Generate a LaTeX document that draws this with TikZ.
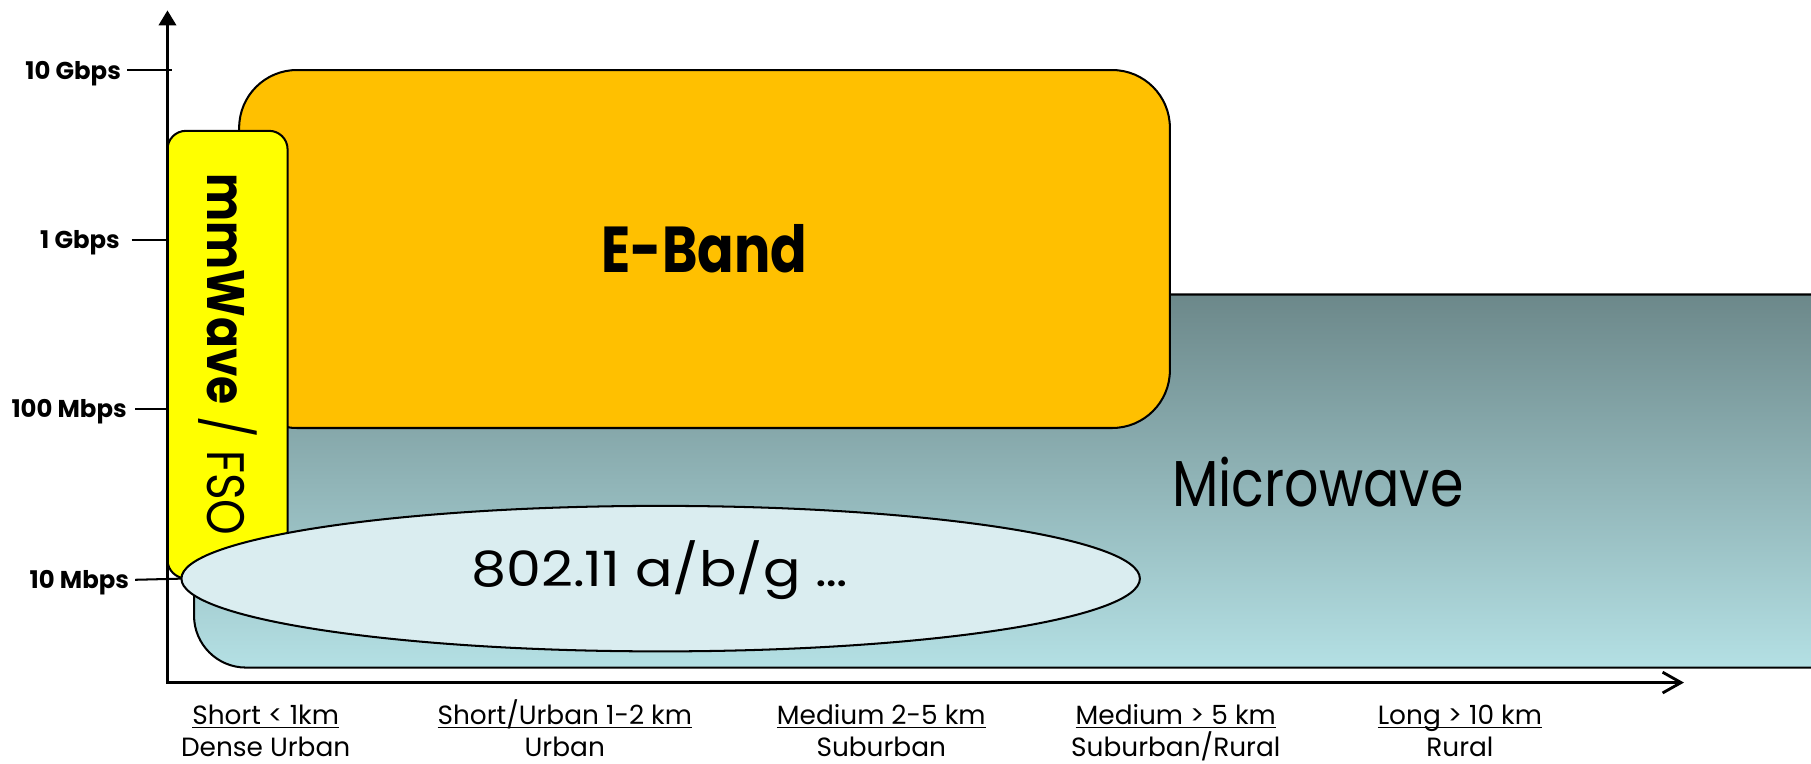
\documentclass[tikz,border=0pt]{standalone}
\usepackage{fontspec}
\setmainfont{Poppins}
\newfontfamily\narrowfont{Poppins}[FakeStretch=0.83]
\newfontfamily\mmwfont{Poppins}[FakeStretch=0.86]
\newfontfamily\widefont{Poppins}[FakeStretch=1.14]
\usetikzlibrary{arrows.meta,shapes.geometric}
\definecolor{eband}{HTML}{FFC000}
\definecolor{mmw}{HTML}{FFFF00}
\definecolor{mwtop}{HTML}{6C888A}
\definecolor{mwbot}{HTML}{B4E0E4}
\definecolor{wifi}{HTML}{DAEDF0}
\begin{document}
\begin{tikzpicture}[x=0.02cm,y=-0.02cm,
  region/.style={draw=black, line width=1pt},
  tickline/.style={line width=1pt},
  ylab/.style={anchor=base east, inner sep=0pt, font=\fontsize{12}{14}\selectfont\bfseries},
  xlab/.style={anchor=base, inner sep=0pt, font=\fontsize{13}{16}\selectfont},
  axisline/.style={line width=1.4pt, line join=miter}]
\clip (0,0) rectangle (1568,661);
% Microwave region
\shade[top color=mwtop, bottom color=mwbot, draw=black, line width=1pt, rounded corners=0.9cm]
  (168,255) -- (1700,255) -- (1700,578) -- (168,578) -- cycle;
% E-Band
\node[region, fill=eband, rounded corners=1cm, minimum width=16.12cm, minimum height=6.2cm,
  inner sep=0pt, outer sep=0pt, font=\narrowfont\fontsize{32}{36}\selectfont\bfseries] (eband) at (610,215.6) {E-Band};
% mmWave / FSO
\node[region, fill=mmw, rounded corners=0.32cm, rotate=-90, minimum width=7.75cm, minimum height=2.08cm,
  inner sep=0pt, outer sep=0pt, font=\mmwfont\fontsize{26}{30}\selectfont] (mmw) at (197,307) {\textbf{mmWave} / FSO};
% 802.11
\node[region, fill=wifi, ellipse, minimum width=16.6cm, minimum height=2.52cm,
  inner sep=0pt, outer sep=0pt] (wifi) at (572,501) {};
\node[anchor=base, inner sep=0pt, font=\widefont\fontsize{24}{28}\selectfont] (wifilab) at (571,508) {802.11 a/b/g …};
% Microwave label
\node[anchor=base, inner sep=0pt, font=\narrowfont\fontsize{32}{36}\selectfont] (mwlab) at (1141,438.5) {Microwave};
% Axes
\coordinate (ytop) at (145,9);
\coordinate (orig) at (145,591);
\coordinate (xend) at (1458,591);
\draw[axisline, {Triangle[length=0.26cm,width=0.3cm]}-{Straight Barb[length=0.32cm,width=0.36cm]}]
  (ytop) -- (orig) -- (xend);
% Y ticks and labels
\node[ylab] (g10) at (105,68.5) {10 Gbps};
\coordinate (g10a) at (110,61); \coordinate (g10b) at (149,61);
\draw[tickline] (g10a) -- (g10b);
\node[ylab] (g1) at (104,215.5) {1 Gbps};
\coordinate (g1a) at (114,208); \coordinate (g1b) at (145,208);
\draw[tickline] (g1a) -- (g1b);
\node[ylab] (m100) at (110,361.5) {100 Mbps};
\coordinate (m100a) at (117,354); \coordinate (m100b) at (145,354);
\draw[tickline] (m100a) -- (m100b);
\node[ylab] (m10) at (112,509.5) {10 Mbps};
\coordinate (m10a) at (117,502);
\draw[tickline] (m10a) -- (wifi.west);
% X labels
\node[xlab] (d1a) at (230,627) {\underline{\smash{Short < 1km}}};
\node[xlab] (d1b) at (230,655) {Dense Urban};
\node[xlab] (d2a) at (489,627) {\underline{\smash{Short/Urban 1-2 km}}};
\node[xlab] (d2b) at (489,655) {Urban};
\node[xlab] (d3a) at (763,627) {\underline{\smash{Medium 2-5 km}}};
\node[xlab] (d3b) at (763,655) {Suburban};
\node[xlab] (d4a) at (1018,627) {\underline{\smash{Medium > 5 km}}};
\node[xlab] (d4b) at (1018,655) {Suburban/Rural};
\node[xlab] (d5a) at (1264,627) {\underline{\smash{Long > 10 km}}};
\node[xlab] (d5b) at (1264,655) {Rural};
\end{tikzpicture}
\end{document}
